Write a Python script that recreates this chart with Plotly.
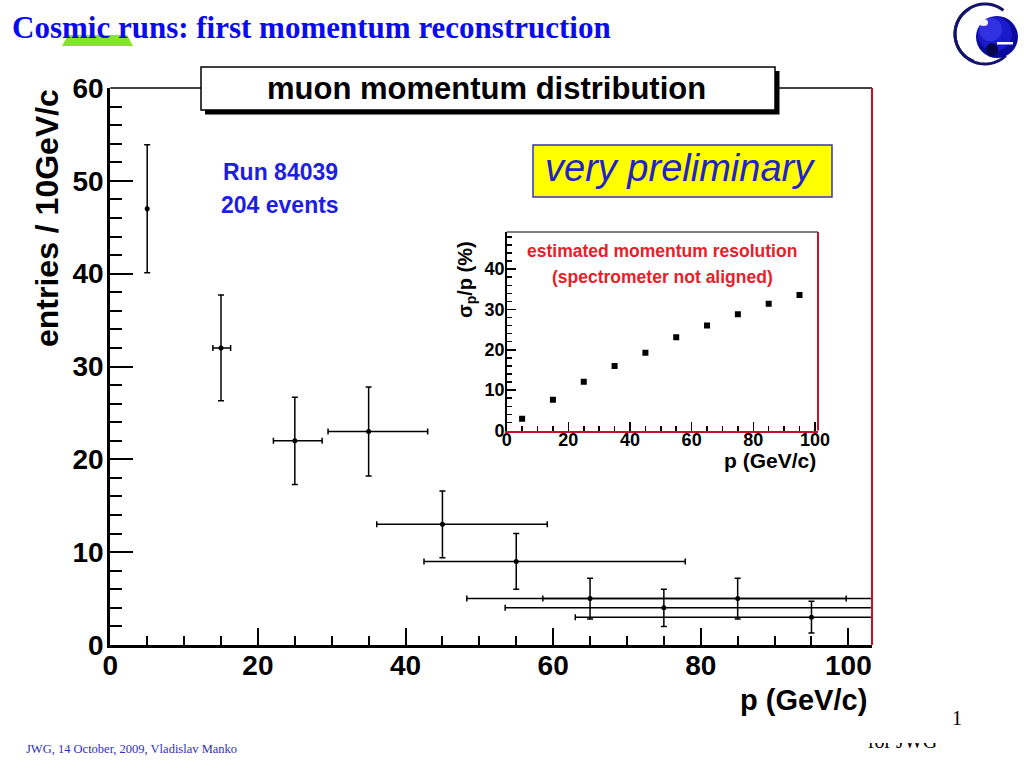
import numpy as np
import plotly.graph_objects as go

# ---------------- data ----------------
p_centers = [5, 15, 25, 35, 45, 55, 65, 75, 85, 95]
entries = [47, 32, 22, 23, 13, 9, 5, 4, 5, 3]
entries_err = [6.9, 5.7, 4.7, 4.8, 3.6, 3.0, 2.2, 2.0, 2.2, 1.7]
p_err_low = [0.0, 1.1, 2.9, 5.5, 8.9, 12.5, 16.7, 21.5, 26.4, 32.0]
p_err_high = [0.0, 1.3, 3.7, 8.0, 14.2, 22.9, 34.7, 48.0, 62.0, 76.0]
resolution = [2.9, 7.6, 12.1, 16.0, 19.3, 23.1, 26.0, 28.8, 31.4, 33.6]
main_xticks = [0, 20, 40, 60, 80, 100]
main_yticks = [0, 10, 20, 30, 40, 50, 60]
inset_xticks = [0, 20, 40, 60, 80, 100]
inset_yticks = [0, 10, 20, 30, 40]

W, H = 1024, 768


def PX(x):
    return x / W


def PY(y):
    return 1 - y / H


BOLD = "bold"
SANS = "Liberation Sans"
SERIF = "Liberation Serif"

fig = go.Figure()

# main histogram points with error bars
fig.add_trace(go.Scatter(
    x=p_centers, y=entries, mode="markers",
    marker=dict(color="black", size=5),
    error_y=dict(type="data", array=entries_err, symmetric=True,
                 color="black", thickness=1.5, width=3),
    error_x=dict(type="data", array=p_err_high, arrayminus=p_err_low,
                 symmetric=False, color="black", thickness=1.5, width=3),
    xaxis="x", yaxis="y", hoverinfo="skip"))

# inset resolution points
fig.add_trace(go.Scatter(
    x=p_centers, y=resolution, mode="markers",
    marker=dict(symbol="square", color="black", size=6),
    xaxis="x2", yaxis="y2", hoverinfo="skip"))

# clipped footer text "for JWG"
fig.add_trace(go.Scatter(
    x=[0.5], y=[1.0], mode="text", text=["for JWG"],
    textposition="middle center",
    textfont=dict(family=SERIF, size=20, color="black"),
    xaxis="x3", yaxis="y3", cliponaxis=True, hoverinfo="skip"))

tickfont_main = dict(family=SANS, size=28, color="black", weight=BOLD)
tickfont_inset = dict(family=SANS, size=18, color="black", weight=BOLD)

fig.update_layout(
    template="none",
    width=W, height=H, autosize=False,
    margin=dict(l=0, r=0, t=0, b=0, pad=0),
    paper_bgcolor="white", plot_bgcolor="white",
    showlegend=False,
    xaxis=dict(domain=[PX(110.3), PX(872)], range=[0, 103.2], anchor="y",
               automargin=False, ticklabelstandoff=-7,
               tickmode="array", tickvals=main_xticks,
               ticks="inside", ticklen=17, tickwidth=2, tickcolor="black",
               minor=dict(dtick=5, tick0=0, ticks="inside", ticklen=9,
                          tickwidth=2, tickcolor="black", showgrid=False),
               showline=True, linecolor="black", linewidth=3,
               showgrid=False, zeroline=False, tickfont=tickfont_main),
    yaxis=dict(domain=[PY(645), PY(88)], range=[0, 60], anchor="x",
               automargin=False, ticklabelstandoff=-2,
               tickmode="array", tickvals=main_yticks,
               ticks="inside", ticklen=23, tickwidth=2, tickcolor="black",
               minor=dict(dtick=2, tick0=0, ticks="inside", ticklen=12,
                          tickwidth=2, tickcolor="black", showgrid=False),
               showline=True, linecolor="black", linewidth=3,
               showgrid=False, zeroline=False, tickfont=tickfont_main),
    xaxis2=dict(domain=[PX(506.7), PX(818)], range=[0, 101], anchor="y2",
                automargin=False, ticklabelstandoff=-8,
                tickmode="array", tickvals=inset_xticks,
                ticks="inside", ticklen=9, tickwidth=1.5, tickcolor="black",
                minor=dict(dtick=5, tick0=0, ticks="inside", ticklen=5,
                           tickwidth=1.5, tickcolor="black", showgrid=False),
                showline=True, linecolor="#c8102a", linewidth=2,
                showgrid=False, zeroline=False, tickfont=tickfont_inset),
    yaxis2=dict(domain=[PY(430.5), PY(232)], range=[0, 49.2], anchor="x2",
                automargin=False, ticklabelstandoff=-3,
                tickmode="array", tickvals=inset_yticks,
                ticks="inside", ticklen=9, tickwidth=1.5, tickcolor="black",
                minor=dict(dtick=2, tick0=0, ticks="inside", ticklen=5,
                           tickwidth=1.5, tickcolor="black", showgrid=False),
                showline=True, linecolor="black", linewidth=1.5,
                showgrid=False, zeroline=False, tickfont=tickfont_inset),
    xaxis3=dict(domain=[PX(855), PX(950)], range=[0, 1], visible=False,
                anchor="y3", fixedrange=True, automargin=False),
    yaxis3=dict(domain=[PY(760), PY(743)], range=[0, 1], visible=False,
                anchor="x3", fixedrange=True, automargin=False),
)

shapes = []


def line(x0, y0, x1, y1, color, width):
    shapes.append(dict(type="line", xref="paper", yref="paper",
                       x0=PX(x0), y0=PY(y0), x1=PX(x1), y1=PY(y1),
                       line=dict(color=color, width=width)))


def rect(x0, y0, x1, y1, fill, lcolor=None, lwidth=0):
    shapes.append(dict(type="rect", xref="paper", yref="paper",
                       x0=PX(x0), y0=PY(y0), x1=PX(x1), y1=PY(y1),
                       fillcolor=fill,
                       line=dict(color=lcolor or fill, width=lwidth)))


def circle(x0, y0, x1, y1, fill, opacity=1.0):
    shapes.append(dict(type="circle", xref="paper", yref="paper",
                       x0=PX(x0), y0=PY(y0), x1=PX(x1), y1=PY(y1),
                       fillcolor=fill, opacity=opacity,
                       line=dict(width=0)))


# main frame top (black) and right (red)
line(110.3, 88, 872, 88, "black", 1.5)
line(872, 88, 872, 645, "#d01020", 2)

# title box with shadow
rect(205, 71, 779.5, 114.5, "black")
rect(201, 67, 775, 110, "white", "black", 1.5)

# very preliminary box
rect(533, 145, 832, 197, "#ffff00", "#3636b0", 1.5)

# inset frame top/right
line(506.7, 232, 818, 232, "black", 1)
line(818, 232, 818, 430.5, "#c8102a", 2)

# green trapezoid under slide title
shapes.append(dict(type="path", xref="paper", yref="paper",
                   path=f"M {PX(62)},{PY(46)} L {PX(133)},{PY(46)} "
                        f"L {PX(127)},{PY(35)} L {PX(68)},{PY(35)} Z",
                   fillcolor="#86e424", line=dict(width=0)))

# logo: ring (crescent) and ball
th = np.radians(np.linspace(52, 314, 70))
cx, cy, r = 985, 34, 30
pts = [(PX(cx + r * np.cos(t)), PY(cy - r * np.sin(t))) for t in th]
ring_path = "M " + " L ".join(f"{a:.5f},{b:.5f}" for a, b in pts)
shapes.append(dict(type="path", xref="paper", yref="paper", path=ring_path,
                   line=dict(color="#14146a", width=3)))
th2 = np.radians(np.linspace(120, 250, 40))
pts2 = [(PX(cx - 1.5 + (r - 1.5) * np.cos(t)), PY(cy - (r - 1) * np.sin(t)))
        for t in th2]
ring_path2 = "M " + " L ".join(f"{a:.5f},{b:.5f}" for a, b in pts2)
shapes.append(dict(type="path", xref="paper", yref="paper", path=ring_path2,
                   line=dict(color="#14146a", width=3)))
circle(976, 16, 1018, 58, "#0a0a9c")
circle(978, 17, 1012, 51, "#1a1ac8")
circle(979, 18, 1002, 41, "#3434e4", 0.9)
circle(979, 19, 988, 26, "#f4f4ff")
circle(986, 43, 998, 56, "#06064a")
rect(997, 42, 1013, 44.5, "white")

fig.update_layout(shapes=shapes)

anns = []


def ann(text, x, y, size, color="black", family=SANS, weight=BOLD,
        xanchor="center", yanchor="middle", angle=0, style="normal"):
    anns.append(dict(text=text, x=PX(x), y=PY(y), xref="paper", yref="paper",
                     showarrow=False, xanchor=xanchor, yanchor=yanchor,
                     textangle=angle,
                     font=dict(family=family, size=size, color=color,
                               weight=weight, style=style)))


ann("Cosmic runs: first momentum reconstruction", 10, 27, 31,
    color="#0a0af0", family=SERIF, xanchor="left")
ann("muon momentum distribution", 486, 88, 31)
ann("Run 84039", 280, 172, 23, color="#1e1ee0")
ann("204 events", 279.5, 205, 23, color="#1e1ee0")
ann("very preliminary", 680, 168, 38, color="#2222c8", weight="normal",
    style="italic")
ann("estimated momentum resolution", 662, 251, 17.5, color="#e8202a")
ann("(spectrometer not aligned)", 662, 277, 17.5, color="#e8202a")
ann("σ<sub>p</sub>/p (%)", 467, 280, 20, angle=-90)
ann("p (GeV/c)", 818, 460, 21, xanchor="right")
ann("entries / 10GeV/c", 47, 218, 32, angle=-90)
ann("p (GeV/c)", 869, 700, 29, xanchor="right")
ann("JWG, 14 October, 2009, Vladislav Manko", 24, 749, 12.5,
    color="#3030b8", family=SERIF, weight="normal", xanchor="left")
ann("1", 957, 718, 20, family=SERIF, weight="normal")

fig.update_layout(annotations=anns)

fig.write_html(
    "out.html",
    config={"displayModeBar": False, "staticPlot": True},
    post_script="document.body.style.margin='0px';"
                "document.body.style.padding='0px';"
                "document.body.style.overflow='hidden';")
